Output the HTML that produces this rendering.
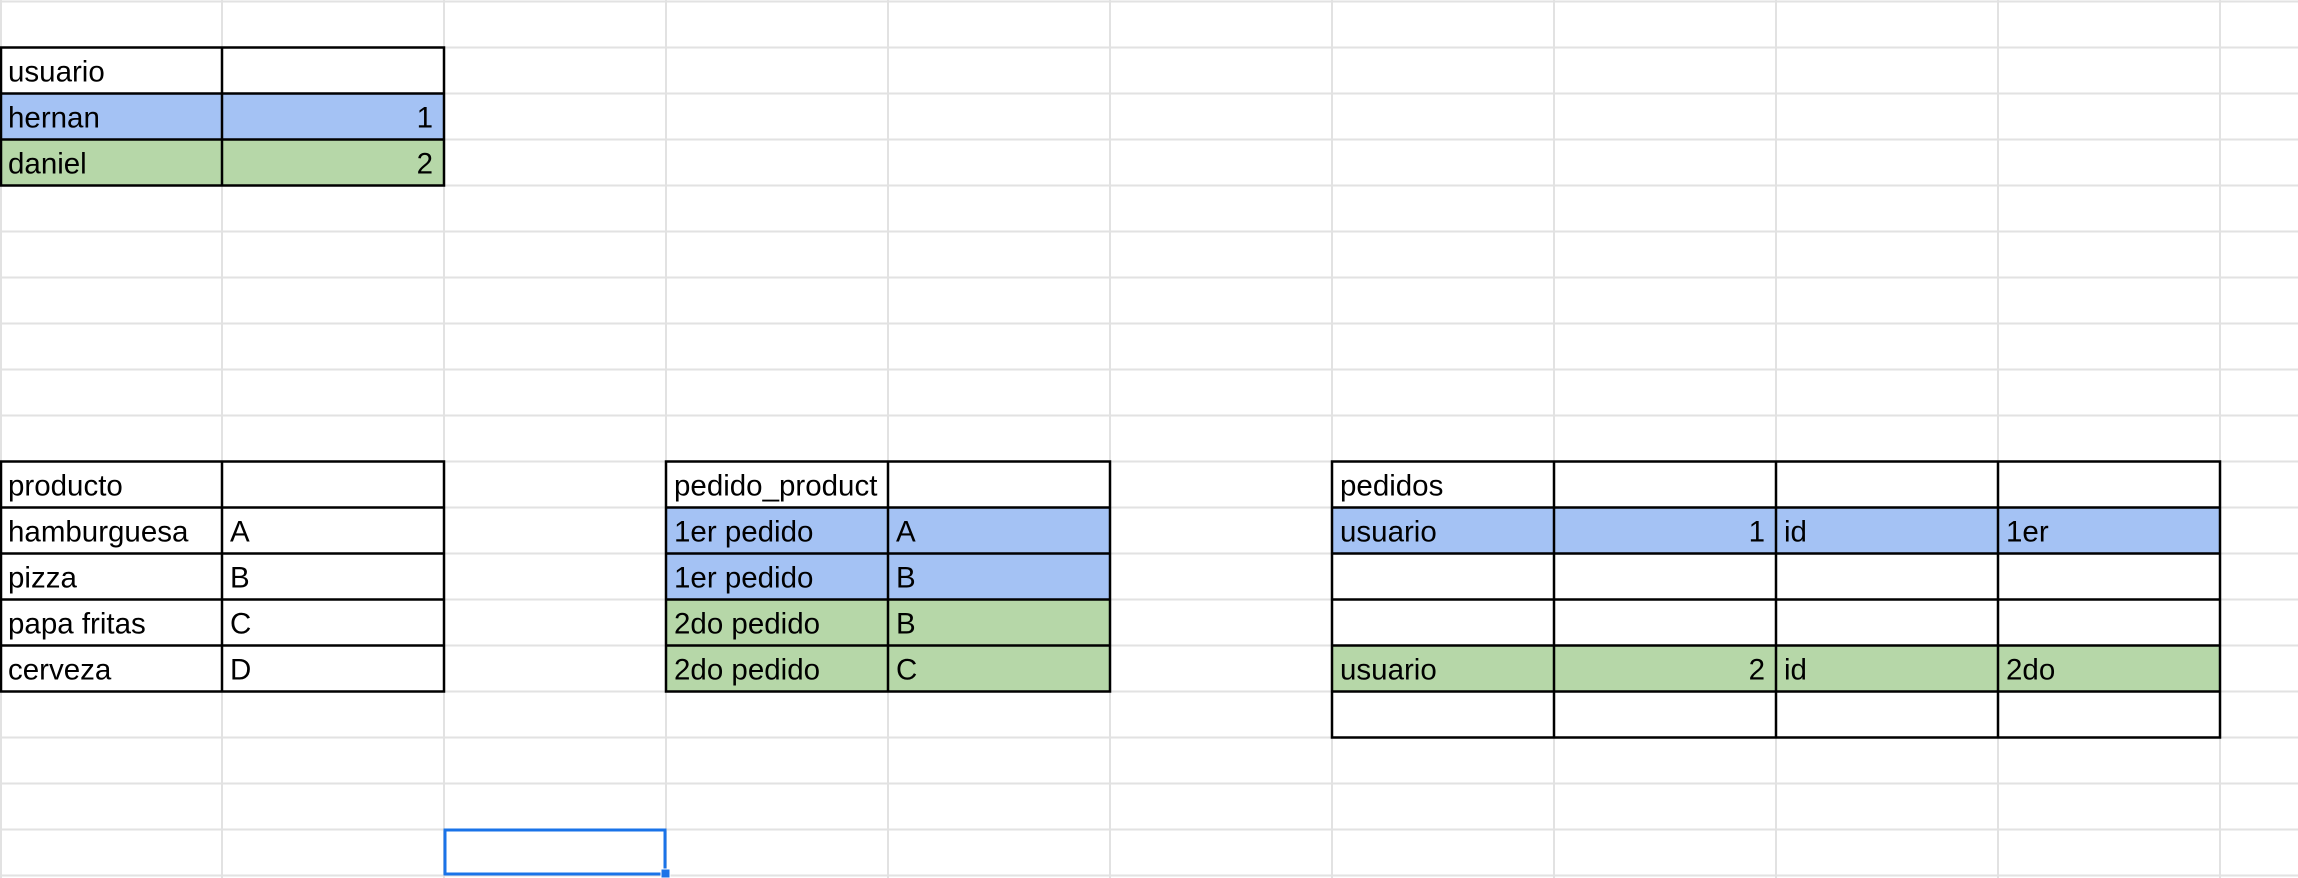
<!DOCTYPE html>
<html><head><meta charset="utf-8"><style>
html,body{margin:0;padding:0;background:#fff;}
svg{display:block;}
text{font-family:"Liberation Sans",Arial,sans-serif;font-size:29.5px;fill:#000;}
</style></head><body>
<svg width="2298" height="878" viewBox="0 0 2298 878" xmlns="http://www.w3.org/2000/svg">
<rect x="0" y="93.5" width="444" height="46" fill="#a4c2f4"/>
<rect x="0" y="139.5" width="444" height="46" fill="#b6d7a8"/>
<rect x="666" y="507.5" width="444" height="92" fill="#a4c2f4"/>
<rect x="666" y="599.5" width="444" height="92" fill="#b6d7a8"/>
<rect x="1332" y="507.5" width="888" height="46" fill="#a4c2f4"/>
<rect x="1332" y="645.5" width="888" height="46" fill="#b6d7a8"/>
<g stroke="#e2e2e2" stroke-width="2">
<line x1="1" y1="0" x2="1" y2="878"/>
<line x1="222" y1="0" x2="222" y2="878"/><line x1="444" y1="0" x2="444" y2="878"/>
<line x1="666" y1="0" x2="666" y2="878"/><line x1="888" y1="0" x2="888" y2="878"/>
<line x1="1110" y1="0" x2="1110" y2="878"/><line x1="1332" y1="0" x2="1332" y2="878"/>
<line x1="1554" y1="0" x2="1554" y2="878"/><line x1="1776" y1="0" x2="1776" y2="878"/>
<line x1="1998" y1="0" x2="1998" y2="878"/><line x1="2220" y1="0" x2="2220" y2="878"/>
<line x1="0" y1="1.5" x2="2298" y2="1.5"/><line x1="0" y1="47.5" x2="2298" y2="47.5"/>
<line x1="0" y1="93.5" x2="2298" y2="93.5"/><line x1="0" y1="139.5" x2="2298" y2="139.5"/>
<line x1="0" y1="185.5" x2="2298" y2="185.5"/><line x1="0" y1="231.5" x2="2298" y2="231.5"/>
<line x1="0" y1="277.5" x2="2298" y2="277.5"/><line x1="0" y1="323.5" x2="2298" y2="323.5"/>
<line x1="0" y1="369.5" x2="2298" y2="369.5"/><line x1="0" y1="415.5" x2="2298" y2="415.5"/>
<line x1="0" y1="461.5" x2="2298" y2="461.5"/><line x1="0" y1="507.5" x2="2298" y2="507.5"/>
<line x1="0" y1="553.5" x2="2298" y2="553.5"/><line x1="0" y1="599.5" x2="2298" y2="599.5"/>
<line x1="0" y1="645.5" x2="2298" y2="645.5"/><line x1="0" y1="691.5" x2="2298" y2="691.5"/>
<line x1="0" y1="737.5" x2="2298" y2="737.5"/><line x1="0" y1="783.5" x2="2298" y2="783.5"/>
<line x1="0" y1="829.5" x2="2298" y2="829.5"/><line x1="0" y1="875.5" x2="2298" y2="875.5"/>
</g>
<g stroke="#000" stroke-width="2.5" fill="none">
<rect x="1" y="47.5" width="443" height="138"/>
<line x1="0" y1="93.5" x2="444" y2="93.5"/><line x1="0" y1="139.5" x2="444" y2="139.5"/>
<line x1="222" y1="47.5" x2="222" y2="185.5"/>
<rect x="1" y="461.5" width="443" height="230"/>
<line x1="0" y1="507.5" x2="444" y2="507.5"/><line x1="0" y1="553.5" x2="444" y2="553.5"/>
<line x1="0" y1="599.5" x2="444" y2="599.5"/><line x1="0" y1="645.5" x2="444" y2="645.5"/>
<line x1="222" y1="461.5" x2="222" y2="691.5"/>
<rect x="666" y="461.5" width="444" height="230"/>
<line x1="666" y1="507.5" x2="1110" y2="507.5"/><line x1="666" y1="553.5" x2="1110" y2="553.5"/>
<line x1="666" y1="599.5" x2="1110" y2="599.5"/><line x1="666" y1="645.5" x2="1110" y2="645.5"/>
<line x1="888" y1="461.5" x2="888" y2="691.5"/>
<rect x="1332" y="461.5" width="888" height="276"/>
<line x1="1332" y1="507.5" x2="2220" y2="507.5"/><line x1="1332" y1="553.5" x2="2220" y2="553.5"/>
<line x1="1332" y1="599.5" x2="2220" y2="599.5"/><line x1="1332" y1="645.5" x2="2220" y2="645.5"/>
<line x1="1332" y1="691.5" x2="2220" y2="691.5"/>
<line x1="1554" y1="461.5" x2="1554" y2="737.5"/><line x1="1776" y1="461.5" x2="1776" y2="737.5"/>
<line x1="1998" y1="461.5" x2="1998" y2="737.5"/>
</g>
<rect x="445" y="830" width="220" height="44" fill="none" stroke="#1a73e8" stroke-width="3"/>
<rect x="661" y="869" width="9" height="9" fill="#1a73e8" stroke="#fff" stroke-width="1"/>
<text x="8" y="81.5">usuario</text>
<text x="8" y="127.5">hernan</text><text x="433" y="127.5" text-anchor="end">1</text>
<text x="8" y="173.5">daniel</text><text x="433" y="173.5" text-anchor="end">2</text>
<text x="8" y="495.5">producto</text>
<text x="8" y="541.5">hamburguesa</text><text x="230" y="541.5">A</text>
<text x="8" y="587.5">pizza</text><text x="230" y="587.5">B</text>
<text x="8" y="633.5">papa fritas</text><text x="230" y="633.5">C</text>
<text x="8" y="679.5">cerveza</text><text x="230" y="679.5">D</text>
<text x="674" y="495.5">pedido_product</text>
<text x="674" y="541.5">1er pedido</text><text x="896" y="541.5">A</text>
<text x="674" y="587.5">1er pedido</text><text x="896" y="587.5">B</text>
<text x="674" y="633.5">2do pedido</text><text x="896" y="633.5">B</text>
<text x="674" y="679.5">2do pedido</text><text x="896" y="679.5">C</text>
<text x="1340" y="495.5">pedidos</text>
<text x="1340" y="541.5">usuario</text><text x="1765" y="541.5" text-anchor="end">1</text>
<text x="1784" y="541.5">id</text><text x="2006" y="541.5">1er</text>
<text x="1340" y="679.5">usuario</text><text x="1765" y="679.5" text-anchor="end">2</text>
<text x="1784" y="679.5">id</text><text x="2006" y="679.5">2do</text>
</svg>
</body></html>
